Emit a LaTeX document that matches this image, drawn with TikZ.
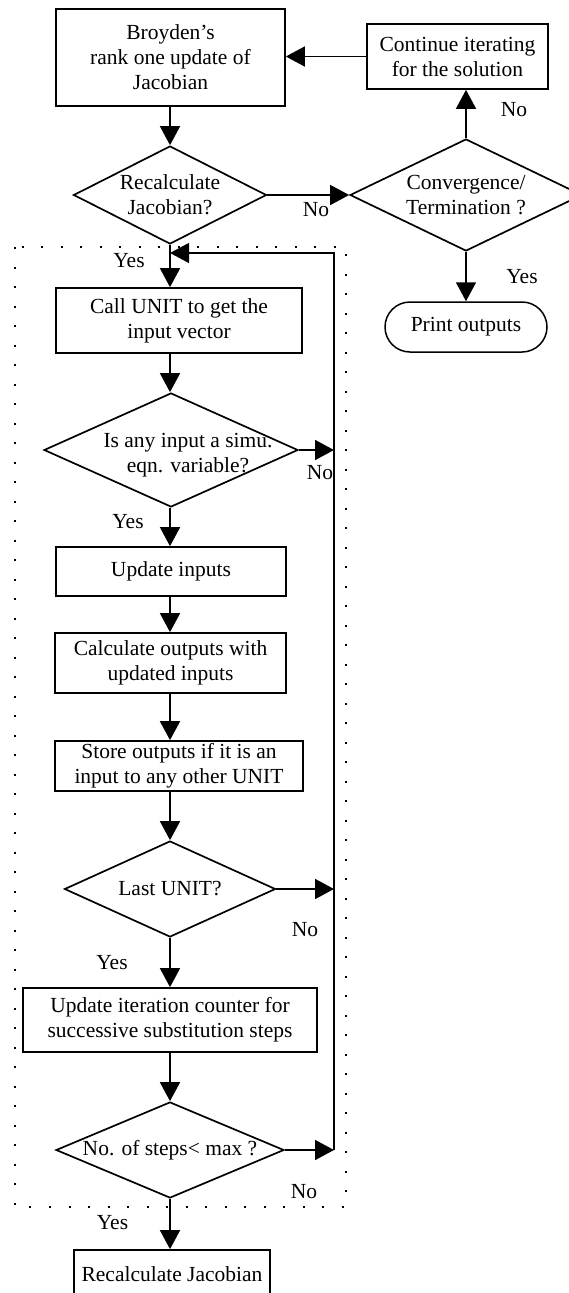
\documentclass[tikz,border=0pt]{standalone}
\usepackage{fontspec}
\setmainfont{Liberation Serif}
\usetikzlibrary{shapes.geometric,shapes.misc,arrows.meta}
\begin{document}
\begin{tikzpicture}[x=1pt,y=-1pt,
  every node/.style={font=\fontsize{21.5}{25}\selectfont},
  box/.style={draw, line width=1.7pt, align=center, inner sep=1pt},
  dec/.style={draw, diamond, line width=1.7pt, inner sep=0pt},
  term/.style={draw, rounded rectangle, line width=1.5pt, inner sep=1pt},
  txt/.style={align=center, inner sep=0pt},
  lbl/.style={inner sep=0pt},
  flow/.style={line width=1.6pt, -{Triangle[length=19pt,width=20pt]}},
  ret/.style={line width=1.2pt},
  frame/.style={line width=2pt, dash pattern=on 2pt off 17.5pt}
]
\useasboundingbox (0,0) rectangle (569,1293);

% main column of the loop
\coordinate (col) at (170,0);

% outer iteration
\node[box, minimum width=229pt, minimum height=97pt] (broy) at (170.5,57.5) {Broyden's\\rank one update of\\Jacobian};
\node[box, minimum width=181pt, minimum height=65pt] (cont) at (457.5,56.5) {Continue iterating\\for the solution};
\node[dec, minimum width=193pt, minimum height=98pt] (rq) at (170,195) {};
\node[txt] (rqT) at (rq) {Recalculate\\Jacobian?};
\node[dec, minimum width=232pt, minimum height=112pt] (conv) at (466,195) {};
\node[txt] (convT) at (conv) {Convergence/\\Termination ?};
\node[term, minimum width=164pt, minimum height=50pt] (print) at (466,327) {Print outputs};

% successive substitution loop
\node[box, minimum width=246pt, minimum height=65pt] (call) at (179,320.5) {Call UNIT to get the\\input vector};
\node[dec, minimum width=254pt, minimum height=114pt] (simu) at (171,450) {};
\node[txt] (simuT) at (188,455) {Is any input a simu.\\eqn. variable?};
\node[box, minimum width=230pt, minimum height=49pt] (upd) at (171,571.5) {Update inputs};
\node[box, minimum width=231pt, minimum height=60pt] (calc) at (170.5,663) {Calculate outputs with\\updated inputs};
\node[box, minimum width=248pt, minimum height=50pt] (store) at (179,766) {Store outputs if it is an\\input to any other UNIT};
\node[dec, minimum width=211pt, minimum height=96pt] (last) at (170,889) {};
\node[txt] (lastT) at (last) {Last UNIT?};
\node[box, minimum width=294pt, minimum height=64pt] (iter) at (170,1020) {Update iteration counter for\\successive substitution steps};
\node[dec, minimum width=228pt, minimum height=96pt] (steps) at (170,1150) {};
\node[txt] (stepsT) at (steps) {No. of steps{\textless} max ?};
\node[box, minimum width=196pt, minimum height=48pt] (recj) at (172,1274) {Recalculate Jacobian};

% dotted frame around the loop
\draw[frame] (14.5,247) rectangle (346,1207);

% outer connectors
\draw[flow] (broy.south -| col) -- (rq.north);
\draw[flow] (rq.east) -- (conv.west);
\draw[flow] (conv.north) -- (conv.north |- cont.south);
\draw[flow] (cont.west) -- (cont.west -| broy.east);
\draw[flow] (conv.south) -- (print.north -| conv.south);
\draw[flow] (rq.south) -- (call.north -| col);

% loop connectors
\draw[flow] (call.south -| col) -- (simu.north -| col);
\draw[flow] (simu.south -| col) -- (upd.north -| col);
\draw[flow] (upd.south -| col) -- (calc.north -| col);
\draw[flow] (calc.south -| col) -- (store.north -| col);
\draw[flow] (store.south -| col) -- (last.north);
\draw[flow] (last.south) -- (iter.north -| col);
\draw[flow] (iter.south -| col) -- (steps.north);
\draw[flow] (steps.south) -- (recj.north -| col);

% return path to the top of the loop
\coordinate (rtop) at (334,253);
\coordinate (rjoin) at (170,253);
\draw[flow] (simu.east) -- (simu.east -| rtop);
\draw[flow] (last.east) -- (last.east -| rtop);
\draw[flow] (steps.east) -- (steps.east -| rtop);
\draw[ret, -{Triangle[length=19pt,width=20pt]}] (steps.east -| rtop) -- (rtop) -- (rjoin);

% branch labels
\node[lbl] (noA) at (316,210) {No};
\node[lbl] (noB) at (514,110) {No};
\node[lbl] (yesA) at (129,261) {Yes};
\node[lbl] (yesB) at (522,277) {Yes};
\node[lbl] (noC) at (320,473) {No};
\node[lbl] (yesC) at (128,522) {Yes};
\node[lbl] (noD) at (305,930) {No};
\node[lbl] (yesD) at (112,963) {Yes};
\node[lbl] (noE) at (304,1192) {No};
\node[lbl] (yesE) at (112.5,1223) {Yes};
\end{tikzpicture}
\end{document}
